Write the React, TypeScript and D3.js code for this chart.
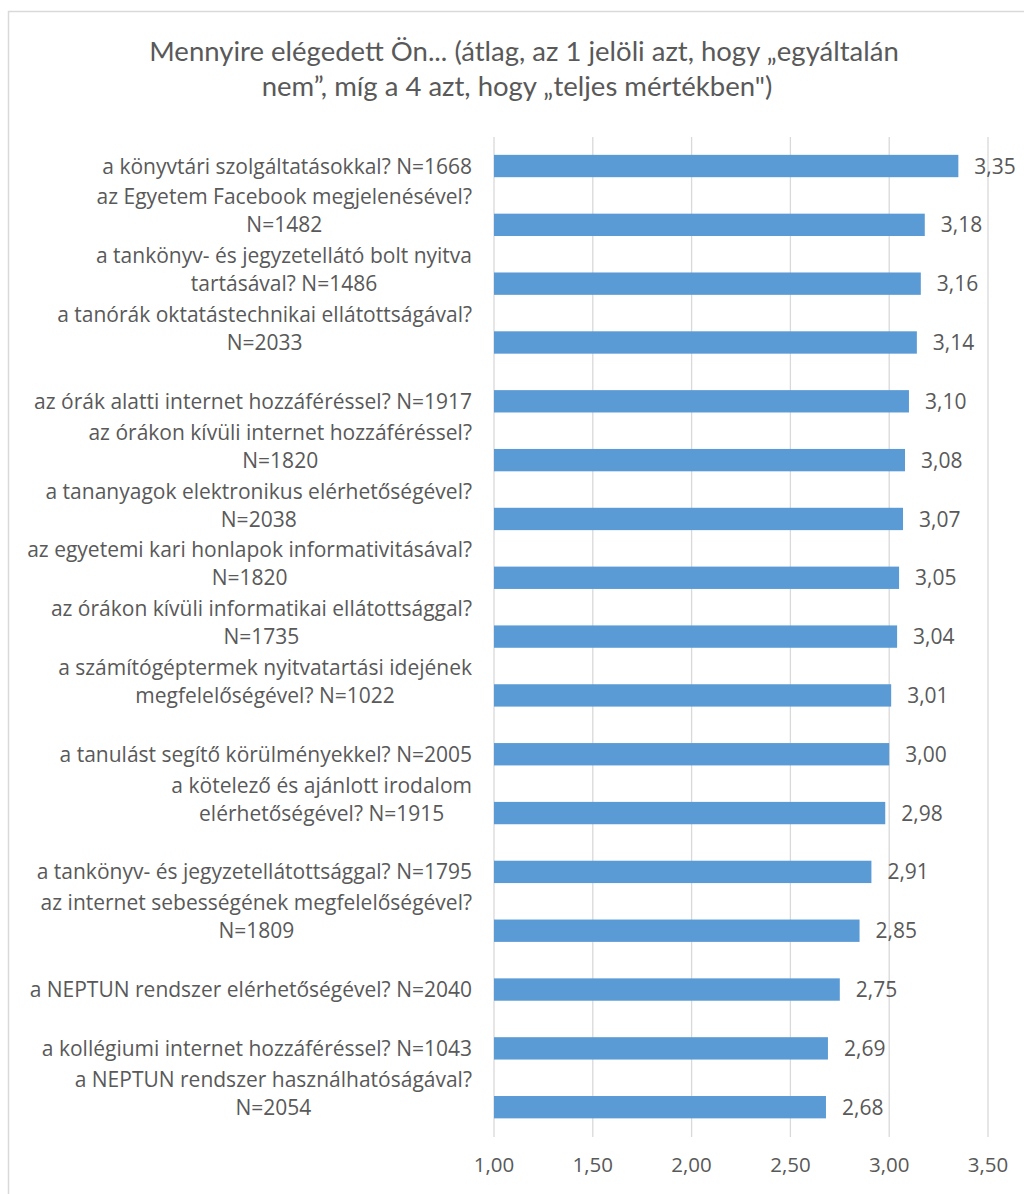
import React, { useEffect, useRef } from "react";
import * as d3 from "d3";

const categories: string[] = [
  "a könyvtári szolgáltatásokkal? N=1668",
  "az Egyetem Facebook megjelenésével?|N=1482",
  "a tankönyv- és jegyzetellátó bolt nyitva|tartásával? N=1486",
  "a tanórák oktatástechnikai ellátottságával?|N=2033",
  "az órák alatti internet hozzáféréssel? N=1917",
  "az órákon kívüli internet hozzáféréssel?|N=1820",
  "a tananyagok elektronikus elérhetőségével?|N=2038",
  "az egyetemi kari honlapok informativitásával?|N=1820",
  "az órákon kívüli informatikai ellátottsággal?|N=1735",
  "a számítógéptermek nyitvatartási idejének|megfelelőségével? N=1022",
  "a tanulást segítő körülményekkel? N=2005",
  "a kötelező és ajánlott irodalom|elérhetőségével? N=1915",
  "a tankönyv- és jegyzetellátottsággal? N=1795",
  "az internet sebességének megfelelőségével?|N=1809",
  "a NEPTUN rendszer elérhetőségével? N=2040",
  "a kollégiumi internet hozzáféréssel? N=1043",
  "a NEPTUN rendszer használhatóságával?|N=2054",
];
const values: number[] = [3.35, 3.18, 3.16, 3.14, 3.1, 3.08, 3.07, 3.05, 3.04, 3.01, 3.0, 2.98, 2.91, 2.85, 2.75, 2.69, 2.68];
const xTicks: number[] = [1.0, 1.5, 2.0, 2.5, 3.0, 3.5];
const titleLines: string[] = [
  "Mennyire elégedett Ön... (átlag, az 1 jelöli azt, hogy „egyáltalán",
  "nem”, míg a 4 azt, hogy „teljes mértékben\")",
];

const W = 1024;
const H = 1194;
const TEXT = "#595959";
const GRID = "#D9D9D9";
const BAR = "#5B9BD5";
const LABEL_FONT = "'Open Sans', sans-serif";
const TITLE_FONT = "Lato, sans-serif";

export default function App() {
  const ref = useRef<SVGSVGElement | null>(null);

  useEffect(() => {
    const svg = d3.select(ref.current);
    svg.selectAll("*").remove();

    const fmt = (v: number) => v.toFixed(2).replace(".", ",");

    // chart border
    svg.append("rect")
      .attr("x", 8.5).attr("y", 11.5)
      .attr("width", W + 20).attr("height", H + 20)
      .attr("fill", "white").attr("stroke", GRID).attr("stroke-width", 1.5);

    // title
    const title = svg.append("text")
      .attr("text-anchor", "middle")
      .attr("font-family", TITLE_FONT)
      .attr("font-size", 27.5)
      .attr("fill", TEXT);
    titleLines.forEach((t, i) => {
      title.append("tspan").attr("x", i === 0 ? 524 : 517).attr("y", 61 + i * 35).text(t);
    });

    const x = d3.scaleLinear().domain([1, 3.5]).range([494, 988]);
    const y = d3.scaleBand<number>()
      .domain(d3.range(values.length))
      .range([136.6, 1136.6])
      .paddingInner(0.62)
      .paddingOuter(0.31);

    // gridlines
    svg.append("g").selectAll("line").data(xTicks).join("line")
      .attr("x1", (d) => x(d)).attr("x2", (d) => x(d))
      .attr("y1", 137).attr("y2", 1137)
      .attr("stroke", GRID).attr("stroke-width", 1.3);

    // tick labels
    svg.append("g").selectAll("text").data(xTicks).join("text")
      .attr("x", (d) => x(d)).attr("y", 1172)
      .attr("text-anchor", "middle")
      .attr("font-family", LABEL_FONT).attr("font-size", 20.5)
      .attr("fill", TEXT)
      .text((d) => fmt(d));

    // bars
    svg.append("g").selectAll("rect").data(values).join("rect")
      .attr("x", x(1))
      .attr("y", (_d, i) => y(i)!)
      .attr("width", (d) => x(d) - x(1))
      .attr("height", y.bandwidth())
      .attr("fill", BAR);

    // value labels
    svg.append("g").selectAll("text").data(values).join("text")
      .attr("x", (d) => x(d) + 16)
      .attr("y", (_d, i) => y(i)! + y.bandwidth() / 2)
      .attr("dy", "0.36em")
      .attr("font-family", LABEL_FONT).attr("font-size", 21)
      .attr("fill", TEXT)
      .text((d) => fmt(d));

    // category labels
    const labelRight = 472;
    const lh = 28;
    const lg = svg.append("g");
    categories.forEach((c, i) => {
      const lines = c.split("|");
      const cy = y(i)! + y.bandwidth() / 2;
      const t = lg.append("text")
        .attr("font-family", LABEL_FONT).attr("font-size", 21)
        .attr("fill", TEXT)
        .attr("text-anchor", "middle");
      const spans = lines.map((ln, j) =>
        t.append("tspan")
          .attr("y", cy - (lines.length - 1 - j) * lh)
          .attr("dy", "0.36em")
          .text(ln)
      );
      const widths = spans.map((s) => (s.node() as SVGTSpanElement).getComputedTextLength());
      const maxW = d3.max(widths) || 0;
      spans.forEach((s) => s.attr("x", labelRight - maxW / 2));
    });
  }, []);

  return (
    <svg
      ref={ref}
      width={W}
      height={H}
      style={{ position: "absolute", left: 0, top: 0, background: "white" }}
    />
  );
}
